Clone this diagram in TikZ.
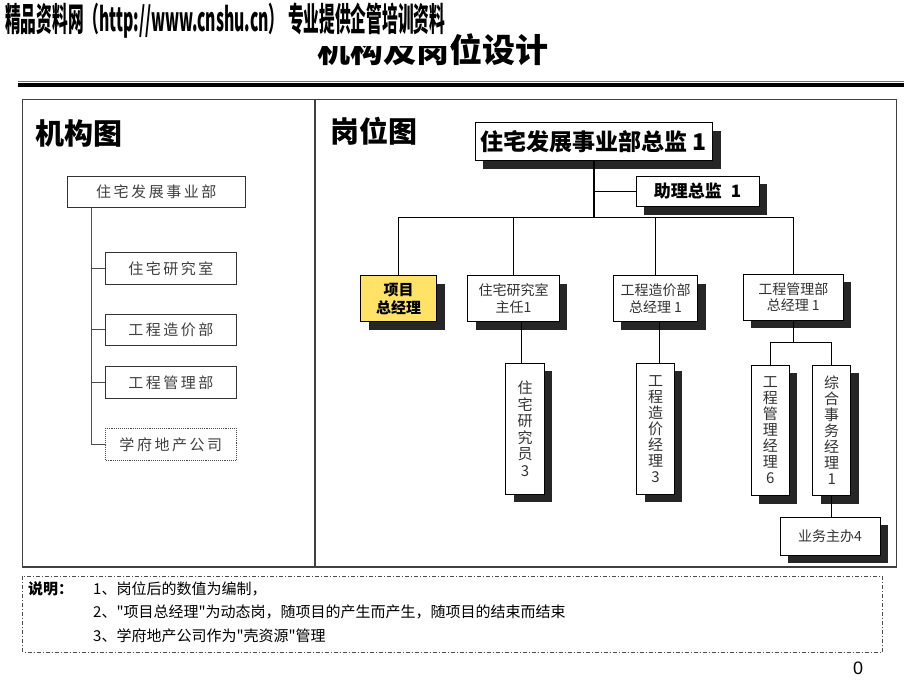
\documentclass[tikz,border=0pt]{standalone}
\usepackage{fontspec}
\usepackage{graphicx}
\setmainfont{Liberation Sans}
\newfontfamily\cjk{Noto Sans CJK SC}
\newfontfamily\cjkls[LetterSpace=17]{Noto Sans CJK SC}
\usetikzlibrary{shadows}
\definecolor{pmyellow}{RGB}{255,226,102}
\tikzset{
 lbox/.style={draw=black!80, line width=0.9pt, fill=white, inner sep=0pt, font=\cjkls\fontsize{15}{15}\selectfont, text=black!75},
 rbox/.style={draw=black, line width=0.9pt, fill=white, inner sep=0pt, align=center,
   drop shadow={shadow xshift=8pt, shadow yshift=-8pt, fill=black!85, opacity=1}},
 smalltext/.style={font=\cjk\fontsize{14}{16.3}\selectfont, text=black!80},
 con/.style={draw=black, line width=0.9pt},
 lcon/.style={draw=black!70, line width=1.1pt},
 paneltitle/.style={anchor=west, inner sep=0pt, font=\cjk\bfseries\fontsize{29}{29}\selectfont},
 notetext/.style={anchor=west, inner sep=0pt, font=\cjk\fontsize{15}{15}\selectfont},
}
\begin{document}
\begin{tikzpicture}[x=1pt,y=-1pt]
\useasboundingbox (0,0) rectangle (920,690);
\fill[white] (0,0) rectangle (920,690);
% title (top partly hidden)
\node[anchor=west, inner sep=0pt, font=\cjk\bfseries\fontsize{33}{33}\selectfont] (title) at (317,50) {机构及岗位设计};
\fill[white] (0,0) rectangle (451,46.5);
\node[anchor=west, inner sep=0pt] (header) at (5,21)
  {\resizebox{440pt}{\height}{\cjk\bfseries\fontsize{33}{33}\selectfont 精品资料网（http://www.cnshu.cn） 专业提供企管培训资料}};
% double rule
\draw[black!55, line width=0.8pt] (18,81.8) -- (904,81.8);
\fill[black] (18,83.5) rectangle (904,86.7);
% frame
\draw[black!75, line width=1.2pt] (22.7,99.3) rectangle (896.7,567);
\draw[black!75, line width=1.2pt] (315,99.3) -- (315,567);
% panel titles
\node[paneltitle] (t1) at (35,133) {机构图};
\node[paneltitle] (t2) at (330,131.5) {岗位图};
% left org chart
\node[lbox, minimum width=178pt, minimum height=31.7pt] (d) at (156.3,191.85) {住宅发展事业部};
\node[lbox, minimum width=130.3pt, minimum height=31.6pt] (r1) at (170.85,268.5) {住宅研究室};
\node[lbox, minimum width=130.3pt, minimum height=31.6pt] (r2) at (170.85,329.9) {工程造价部};
\node[lbox, minimum width=130.3pt, minimum height=31.6pt] (r3) at (170.85,382.5) {工程管理部};
\node[lbox, draw=black!70, densely dotted, minimum width=130.3pt, minimum height=32pt] (r4) at (170.85,444.3) {学府地产公司};
\draw[lcon] ([xshift=24.7pt]d.south west) |- (r4.west);
\draw[lcon] (r1.west) -- ++(-13.8,0);
\draw[lcon] (r2.west) -- ++(-13.8,0);
\draw[lcon] (r3.west) -- ++(-13.8,0);
% right chart
\node[rbox, minimum width=237.7pt, minimum height=38pt, font=\cjk\bfseries\fontsize{23}{23}\selectfont] (top) at (593.85,141.7) {住宅发展事业部总监 1};
\node[rbox, minimum width=123.3pt, minimum height=30.7pt, font=\cjk\bfseries\fontsize{17}{17}\selectfont] (asst) at (697.65,191.35) {助理总监\hspace{9pt}1};
\node[rbox, fill=pmyellow, minimum width=76pt, minimum height=46pt, font=\cjk\bfseries\fontsize{15}{18}\selectfont] (pm) at (398.7,298.7) {项目\\总经理};
\node[rbox, smalltext, minimum width=91.6pt, minimum height=46pt] (zy) at (513.5,298.7) {住宅研究室\\主任1};
\node[rbox, smalltext, minimum width=84.4pt, minimum height=46pt] (zj) at (655.5,298.7) {工程造价部\\总经理 1};
\node[rbox, smalltext, minimum width=100pt, minimum height=45.7pt] (gl) at (793.3,297.2) {工程管理部\\总经理 1};
\node[rbox, smalltext, font=\cjk\fontsize{15}{16.5}\selectfont, minimum width=38.6pt, minimum height=130.7pt] (v1) at (525,428.65) {住\\宅\\研\\究\\员\\3};
\node[rbox, smalltext, font=\cjk\fontsize{15}{16}\selectfont, minimum width=37.6pt, minimum height=130.7pt] (v2) at (655.5,428.65) {工\\程\\造\\价\\经\\理\\3};
\node[rbox, smalltext, font=\cjk\fontsize{15}{16}\selectfont, minimum width=38pt, minimum height=130.7pt] (v3) at (770.3,430.35) {工\\程\\管\\理\\经\\理\\6};
\node[rbox, smalltext, font=\cjk\fontsize{15}{16}\selectfont, minimum width=38pt, minimum height=130.7pt] (v4) at (831.7,430.35) {综\\合\\事\\务\\经\\理\\1};
\node[rbox, smalltext, minimum width=100pt, minimum height=38.3pt] (yw) at (830,536.15) {业务主办4};
% connectors
\coordinate (bus) at (593.85,217.3);
\draw[con, line width=2pt] (top.south) -- (bus);
\draw[con] (top.south |- asst.west) -- (asst.west);
\draw[con] (pm.north) |- (bus) -| (gl.north);
\draw[con] (zy.north) -- (zy.north |- bus);
\draw[con] (zj.north) -- (zj.north |- bus);
\path ([xshift=-4pt]v1.north) coordinate (v1t);
\draw[con] (v1t) -- (v1t |- zy.south);
\path ([xshift=3.5pt]v2.north) coordinate (v2t);
\draw[con] (v2t) -- (v2t |- zj.south);
\coordinate (g) at (793.3,342.7);
\draw[con] (gl.south) -- (g);
\draw[con] (v3.north) |- (g) -| (v4.north);
\draw[con] (v4.south) -- (v4.south |- yw.north);
% notes
\draw[black!70, line width=0.9pt, dash pattern=on 4pt off 2pt on 1pt off 2pt] (22.5,576) rectangle (882,652);
\node[notetext, font=\cjk\bfseries\fontsize{15}{15}\selectfont] (n0) at (28,589) {说明：};
\node[notetext] (n1) at (93,589) {1、岗位后的数值为编制，};
\node[notetext] (n2) at (93,612) {2、"项目总经理"为动态岗，随项目的产生而产生，随项目的结束而结束};
\node[notetext] (n3) at (93,636) {3、学府地产公司作为"壳资源"管理};
\node[inner sep=0pt, font=\fontsize{18}{18}\selectfont] (pg) at (858,668) {0};
\end{tikzpicture}
\end{document}
